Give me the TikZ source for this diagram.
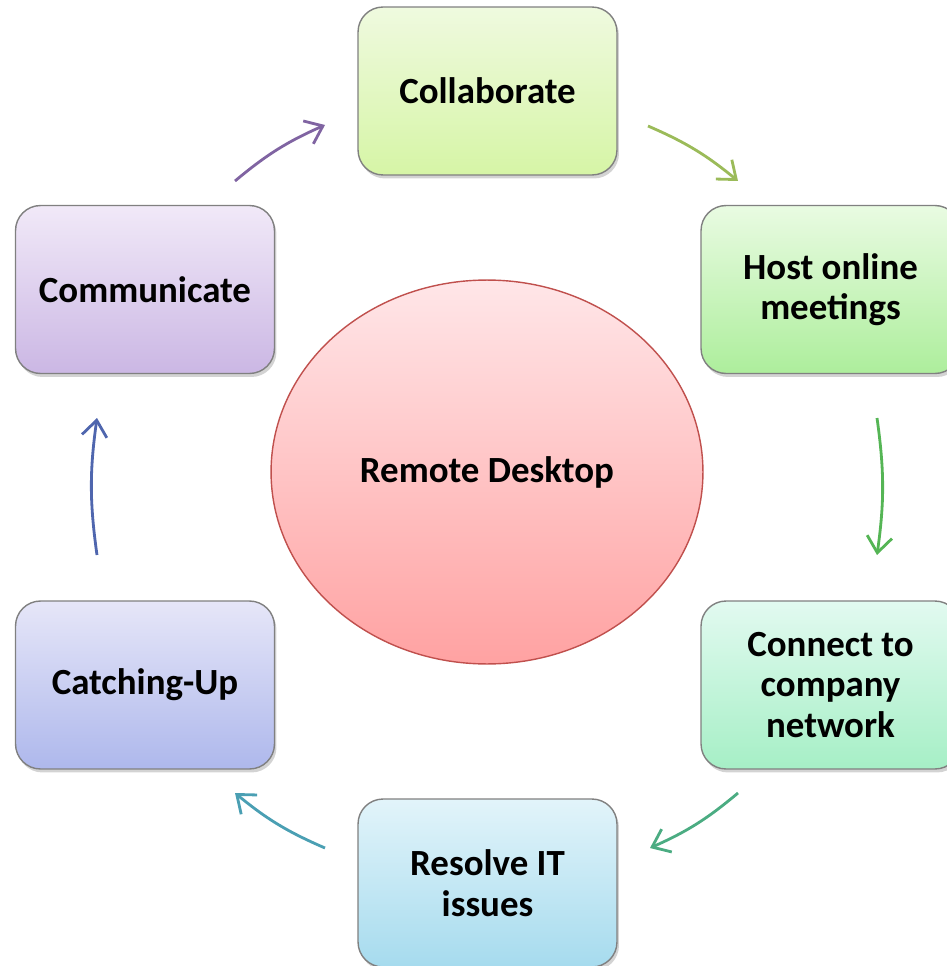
\documentclass[tikz,border=0pt]{standalone}
\usepackage{fontspec}
\setmainfont{Carlito}
\usetikzlibrary{shapes.geometric,arrows.meta,shadows}
\definecolor{cPurple}{HTML}{8064A2}
\definecolor{cLime}{HTML}{9BBB59}
\definecolor{cGreen}{HTML}{55B555}
\definecolor{cSea}{HTML}{4BAC82}
\definecolor{cTeal}{HTML}{4A9FB3}
\definecolor{cBlue}{HTML}{4F66AE}
\definecolor{colT}{HTML}{EFFADF}\definecolor{colB}{HTML}{D6F5A6}
\definecolor{hosT}{HTML}{E9FBE2}\definecolor{hosB}{HTML}{ADEE9C}
\definecolor{conT}{HTML}{E2FAF0}\definecolor{conB}{HTML}{A6EFC6}
\definecolor{resT}{HTML}{E2F4FA}\definecolor{resB}{HTML}{A6DBEE}
\definecolor{catT}{HTML}{E6E6F8}\definecolor{catB}{HTML}{AEB8EC}
\definecolor{comT}{HTML}{F1E9F8}\definecolor{comB}{HTML}{CBB7E4}
\definecolor{remT}{HTML}{FFE6E8}\definecolor{remB}{HTML}{FFA2A2}
\definecolor{remD}{HTML}{C0504D}
\tikzset{
  box/.style={draw=black!50, line width=0.8pt, rounded corners=0.5cm,
    minimum width=5.18cm, minimum height=3.36cm, align=center,
    font=\fontsize{21}{23}\selectfont\bfseries,
    drop shadow={shadow xshift=0.04cm, shadow yshift=-0.07cm, opacity=0.35}},
  flow/.style={line width=1.6pt, -{Straight Barb[length=0.32cm,width=0.5cm,line width=1.6pt]}},
}
\begin{document}
\begin{tikzpicture}[x=0.02cm,y=-0.02cm]
\useasboundingbox (0,0) rectangle (946,966);
\node[box, top color=colT, bottom color=colB] (collab) at (487.5,91) {Collaborate};
\node[box, top color=hosT, bottom color=hosB] (host) at (830.5,289.5) {Host online\\meetings};
\node[box, top color=conT, bottom color=conB] (conn) at (830.5,685) {Connect to\\company\\network};
\node[box, top color=resT, bottom color=resB] (resolve) at (487.5,883) {Resolve IT\\issues};
\node[box, top color=catT, bottom color=catB] (catch) at (145,685) {Catching-Up};
\node[box, top color=comT, bottom color=comB] (comm) at (145,289.5) {Communicate};
\node[ellipse, draw=remD, line width=0.8pt, top color=remT, bottom color=remB,
  minimum width=8.64cm, minimum height=7.68cm,
  font=\fontsize{21}{23}\selectfont\bfseries] (rd) at (487,472) {Remote Desktop};
\coordinate (a1s) at (235,181); \coordinate (a1e) at (325,125);
\coordinate (a2s) at (648,126); \coordinate (a2e) at (738,181);
\coordinate (a3s) at (877,418); \coordinate (a3e) at (877,555);
\coordinate (a4s) at (738,793); \coordinate (a4e) at (650,848);
\coordinate (a5s) at (325,848); \coordinate (a5e) at (235,793);
\coordinate (a6s) at (97,555); \coordinate (a6e) at (97,418);
\draw[flow, cPurple] (a1s) to[bend left=8] (a1e);
\draw[flow, cLime] (a2s) to[bend left=8] (a2e);
\draw[flow, cGreen] (a3s) to[bend left=8] (a3e);
\draw[flow, cSea] (a4s) to[bend left=8] (a4e);
\draw[flow, cTeal] (a5s) to[bend left=8] (a5e);
\draw[flow, cBlue] (a6s) to[bend left=8] (a6e);
\end{tikzpicture}
\end{document}
